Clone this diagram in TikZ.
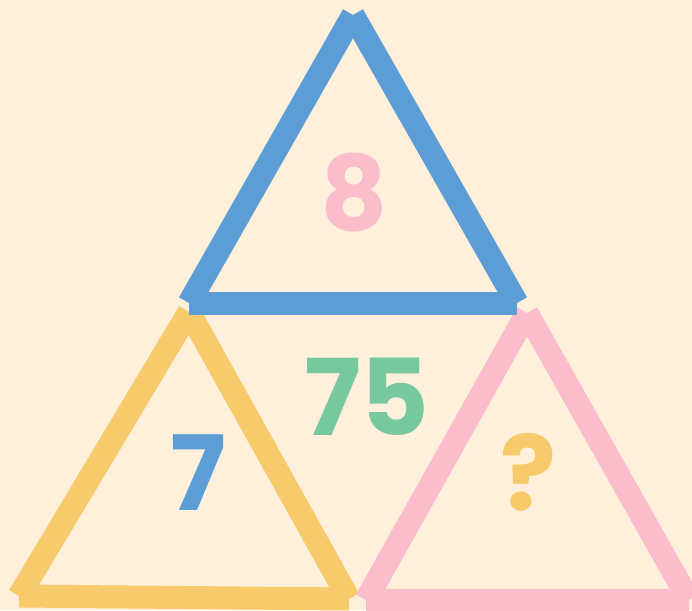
\documentclass[tikz,border=0pt]{standalone}
\usepackage{fontspec}
\newfontfamily\puzzlefont{Poppins}
\definecolor{pzCream}{HTML}{FEF0DA}
\definecolor{pzBlue}{HTML}{5C9DD5}
\definecolor{pzPink}{HTML}{FBBDCC}
\definecolor{pzYellow}{HTML}{F7CB6C}
\definecolor{pzGreen}{HTML}{78C89F}
\tikzset{
  side/.style={line width=23pt, line cap=butt},
  num/.style={inner sep=0pt, font=\fontsize{104}{104}\puzzlefont\bfseries},
}

\begin{document}
\begin{tikzpicture}[x=1pt, y=-1pt]
  % canvas
  \fill[pzCream] (0,0) rectangle (692,610);
  \useasboundingbox (0,0) rectangle (692,610);

  % corners
  \coordinate (bTop)   at (353,15);
  \coordinate (bLeft)  at (189,303);
  \coordinate (bRight) at (517,303);
  \coordinate (yTop)   at (189,312);
  \coordinate (yLeft)  at (19,596);
  \coordinate (yRight) at (349,599);
  \coordinate (pTop)   at (527,313);
  \coordinate (pLeft)  at (366,600);
  \coordinate (pRight) at (689,600);

  % yellow triangle
  \draw[side, pzYellow] (yTop) -- (yLeft);
  \draw[side, pzYellow] (yLeft) -- (yRight);
  \draw[side, pzYellow] (yRight) -- (yTop);

  % pink triangle
  \draw[side, pzPink] (pTop) -- (pLeft);
  \draw[side, pzPink] (pLeft) -- (pRight);
  \draw[side, pzPink] (pRight) -- (pTop);

  % blue triangle
  \draw[side, pzBlue] (bTop) -- (bLeft);
  \draw[side, pzBlue] (bLeft) -- (bRight);
  \draw[side, pzBlue] (bRight) -- (bTop);

  % numbers
  \node[num, text=pzPink]   (top)    at (354,192) {8};
  \node[num, text=pzBlue]   (left)   at (198,473) {7};
  \node[num, text=pzYellow] (right)  at (528,472) {?};
  \node[num, text=pzGreen, font=\fontsize{106}{106}\puzzlefont\bfseries]
    (middle) at (367,397) {75};
\end{tikzpicture}
\end{document}
